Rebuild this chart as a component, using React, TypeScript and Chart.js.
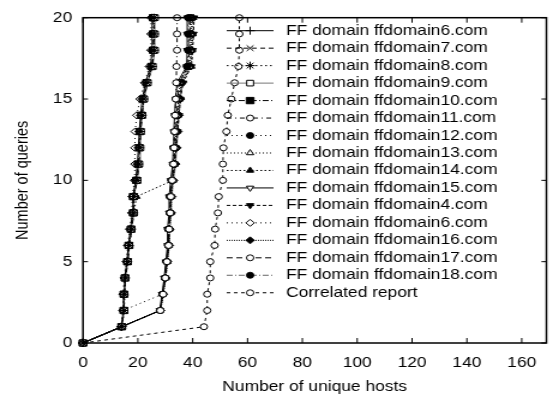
import React, { useEffect, useRef } from 'react';
import { Chart, registerables } from 'chart.js';
import { drawPoint } from 'chart.js/helpers';

Chart.register(...registerables);

// ---------- data ----------
const queries = [0, 1, 2, 3, 4, 5, 6, 7, 8, 9, 10, 11, 12, 13, 14, 15, 16, 17, 18, 19, 20];
const xTickValues = [0, 20, 40, 60, 80, 100, 120, 140, 160];
const yTickValues = [0, 5, 10, 15, 20];

const ffdomain6 = [0, 14.0, 14.7, 14.8, 15.2, 16.0, 16.5, 17.3, 18.0, 18.2, 19.2, 19.8, 20.2, 20.5, 21.0, 21.6, 22.8, 24.6, 25.2, 25.2, 25.2];
const ffdomain7 = [0, 14.2, 15.0, 15.1, 15.5, 16.4, 16.9, 17.8, 18.5, 18.6, 19.8, 20.4, 20.8, 21.0, 21.6, 22.2, 23.5, 25.3, 25.9, 25.9, 25.9];
const ffdomain8 = [0, 14.0, 14.8, 14.9, 15.4, 16.2, 16.8, 17.6, 18.4, 18.5, 19.6, 20.2, 20.6, 20.9, 21.5, 22.1, 23.4, 25.2, 26.0, 26.0, 26.0];
const ffdomain9 = [0, 14.1, 15.0, 15.0, 15.4, 16.3, 16.8, 17.7, 18.5, 18.5, 19.8, 20.5, 20.9, 21.1, 21.6, 22.3, 23.6, 25.4, 26.2, 26.2, 26.2];
const ffdomain10 = [0, 14.1, 14.9, 14.9, 15.3, 16.2, 16.7, 17.5, 18.3, 18.3, 19.5, 20.1, 20.5, 20.7, 21.3, 21.9, 23.2, 25.0, 25.6, 25.6, 25.6];
const ffdomain11 = [0, 14.1, 28.2, 29.2, 30.0, 30.6, 31.2, 31.4, 31.8, 32.0, 32.5, 33.0, 33.2, 33.4, 33.6, 33.8, 34.0, 34.1, 34.3, 34.3, 34.3];
const ffdomain12 = [0, 14.1, 14.6, 29.0, 29.8, 30.4, 31.0, 31.0, 31.6, 31.6, 32.2, 32.8, 33.0, 33.3, 33.6, 34.0, 34.6, 38.0, 38.3, 38.3, 38.3];
const ffdomain13 = [0, 14.1, 28.0, 29.2, 30.2, 30.8, 31.4, 31.6, 32.0, 32.2, 32.8, 33.4, 33.8, 34.0, 34.4, 34.8, 35.4, 38.8, 39.2, 39.2, 39.2];
const ffdomain14 = [0, 14.3, 15.0, 15.2, 15.5, 16.3, 17.0, 17.7, 18.6, 19.5, 32.8, 33.2, 33.6, 34.0, 34.6, 35.2, 35.8, 39.5, 39.8, 40.0, 40.2];
const ffdomain15 = [0, 14.0, 28.0, 28.8, 29.6, 30.2, 30.8, 30.8, 31.4, 31.4, 32.0, 32.7, 32.9, 33.1, 33.4, 33.8, 34.3, 37.8, 38.0, 38.0, 38.0];
const ffdomain4 = [0, 14.1, 28.1, 29.1, 30.0, 30.6, 31.2, 31.2, 31.8, 32.0, 32.5, 33.5, 34.0, 34.5, 35.0, 35.5, 36.5, 39.5, 40.0, 40.3, 40.5];
const ffdomain6b = [0, 13.9, 14.6, 14.6, 15.0, 15.8, 16.3, 17.0, 17.8, 17.9, 18.8, 18.9, 18.9, 19.0, 19.6, 20.8, 22.5, 24.2, 24.8, 24.8, 24.8];
const ffdomain16 = [0, 14.2, 28.3, 29.3, 30.2, 30.8, 31.5, 31.7, 32.2, 32.4, 33.0, 33.8, 34.2, 34.6, 35.0, 35.6, 36.2, 39.0, 39.6, 39.6, 39.6];
const ffdomain17 = [0, 14.1, 28.1, 29.0, 29.9, 30.5, 31.1, 31.3, 31.7, 31.9, 32.4, 33.2, 33.5, 33.8, 34.2, 34.6, 35.0, 38.4, 38.8, 39.0, 39.0];
const ffdomain18 = [0, 14.2, 28.2, 29.1, 30.1, 30.7, 31.3, 31.5, 31.9, 32.1, 32.6, 33.6, 33.9, 34.3, 34.8, 35.3, 35.9, 37.9, 38.6, 38.6, 38.6];
const correlated = [0, 44.1, 45.3, 45.3, 46.4, 46.4, 48.0, 48.2, 49.2, 49.5, 51.0, 51.0, 51.2, 52.3, 52.8, 54.1, 55.3, 56.7, 57.0, 57.0, 57.0];

const seriesLabels = [
  'FF domain ffdomain6.com', 'FF domain ffdomain7.com', 'FF domain ffdomain8.com', 'FF domain ffdomain9.com',
  'FF domain ffdomain10.com', 'FF domain ffdomain11.com', 'FF domain ffdomain12.com', 'FF domain ffdomain13.com',
  'FF domain ffdomain14.com', 'FF domain ffdomain15.com', 'FF domain ffdomain4.com', 'FF domain ffdomain6.com',
  'FF domain ffdomain16.com', 'FF domain ffdomain17.com', 'FF domain ffdomain18.com', 'Correlated report',
];
const seriesValues = [
  ffdomain6, ffdomain7, ffdomain8, ffdomain9, ffdomain10, ffdomain11, ffdomain12, ffdomain13,
  ffdomain14, ffdomain15, ffdomain4, ffdomain6b, ffdomain16, ffdomain17, ffdomain18, correlated,
];

// ---------- styles ----------
const W = 461;
const H = 398;
const SX = 553 / W;
const FONT = "'Liberation Sans', Arial, Helvetica, sans-serif";
const FS = 14.5;

const styles = [
  { color: '#000', dash: [], marker: 'cross', r: 4, fill: '#000', rot: 0 },
  { color: '#000', dash: [4, 3], marker: 'crossRot', r: 4, fill: '#000', rot: 0 },
  { color: '#000', dash: [1.5, 2.5], marker: 'star', r: 4, fill: '#000', rot: 0 },
  { color: '#777', dash: [], marker: 'rect', r: 4, fill: '#fff', rot: 0 },
  { color: '#000', dash: [5, 2, 1, 2], marker: 'rect', r: 4.5, fill: '#000', rot: 0 },
  { color: '#000', dash: [4, 3, 1, 3], marker: 'circle', r: 3, fill: '#fff', rot: 0 },
  { color: '#000', dash: [1, 3], marker: 'circle', r: 3, fill: '#000', rot: 0 },
  { color: '#000', dash: [1, 2], marker: 'triangle', r: 3.5, fill: '#fff', rot: 0 },
  { color: '#000', dash: [1.5, 2], marker: 'triangle', r: 3.5, fill: '#000', rot: 0 },
  { color: '#000', dash: [], marker: 'triangle', r: 3.5, fill: '#fff', rot: 180 },
  { color: '#000', dash: [3, 2], marker: 'triangle', r: 3.5, fill: '#000', rot: 180 },
  { color: '#000', dash: [1, 3], marker: 'rectRot', r: 3.5, fill: '#fff', rot: 0 },
  { color: '#000', dash: [1, 1], marker: 'rectRot', r: 3.5, fill: '#000', rot: 0 },
  { color: '#000', dash: [5, 3], marker: 'circle', r: 3, fill: '#fff', rot: 0 },
  { color: '#666', dash: [5, 2, 1, 2], marker: 'circle', r: 3, fill: '#000', rot: 0 },
  { color: '#000', dash: [3, 3], marker: 'circle', r: 3, fill: '#fff', rot: 0 },
];

const framePlugin = {
  id: 'gnuFrame',
  afterDraw(chart: any) {
    const { ctx, chartArea: a, scales } = chart;
    const xs = scales.x;
    const ys = scales.y;
    ctx.save();
    ctx.setLineDash([]);
    ctx.strokeStyle = '#000';
    ctx.lineWidth = 1.5;
    ctx.strokeRect(a.left, a.top, a.right - a.left, a.bottom - a.top);
    ctx.lineWidth = 1;
    const seg = (x1: number, y1: number, x2: number, y2: number) => {
      ctx.beginPath();
      ctx.moveTo(x1, y1);
      ctx.lineTo(x2, y2);
      ctx.stroke();
    };
    const tv = 5;
    const th = 5 / SX;
    xs.ticks.forEach((t: any) => {
      const p = xs.getPixelForValue(t.value);
      seg(p, a.bottom, p, a.bottom - tv);
      seg(p, a.top, p, a.top + tv);
    });
    ys.ticks.forEach((t: any) => {
      const p = ys.getPixelForValue(t.value);
      seg(a.left, p, a.left + th, p);
      seg(a.right, p, a.right - th, p);
    });

    // key
    const x1 = 189;
    const x2 = 228;
    const xm = 208.5;
    const xt = 238.5;
    chart.data.datasets.forEach((ds: any, i: number) => {
      const y = 30.7 + i * 17.47;
      ctx.strokeStyle = ds.borderColor;
      ctx.lineWidth = 1;
      ctx.setLineDash(ds.borderDash || []);
      seg(x1, y, x2, y);
      ctx.setLineDash([]);
      ctx.strokeStyle = '#000';
      ctx.fillStyle = ds.pointBackgroundColor;
      drawPoint(ctx, { pointStyle: ds.pointStyle, rotation: ds.pointRotation, radius: ds.pointRadius, borderWidth: 1 } as any, xm, y);
      ctx.fillStyle = '#000';
      ctx.font = `${FS}px ${FONT}`;
      ctx.textAlign = 'left';
      ctx.textBaseline = 'middle';
      ctx.fillText(ds.label, xt, y);
    });
    ctx.restore();
  },
};

export default function App() {
  const ref = useRef<HTMLCanvasElement>(null);
  useEffect(() => {
    const canvas = ref.current;
    if (!canvas) return;
    const datasets = seriesValues.map((vals, i) => {
      const s = styles[i];
      return {
        label: seriesLabels[i],
        data: vals.map((x, j) => ({ x, y: queries[j] })),
        showLine: true,
        borderColor: s.color,
        borderWidth: 1,
        borderDash: s.dash,
        pointStyle: s.marker,
        pointRotation: s.rot,
        pointRadius: s.r,
        pointHoverRadius: s.r,
        pointBorderColor: '#000',
        pointBackgroundColor: s.fill,
        pointBorderWidth: 1,
        clip: false,
      };
    });
    const font = { family: FONT, size: FS };
    const chart = new Chart(canvas, {
      type: 'scatter',
      data: { datasets } as any,
      options: {
        responsive: false,
        animation: false,
        devicePixelRatio: 1,
        color: '#000',
        layout: { padding: { left: 0, right: W - 455.8, top: 14, bottom: 0 } },
        plugins: { legend: { display: false }, tooltip: { enabled: false } },
        scales: {
          x: {
            type: 'linear',
            min: 0,
            max: 169,
            grid: { display: false, drawTicks: false },
            border: { display: false },
            afterBuildTicks: (scale: any) => {
              scale.ticks = xTickValues.map((v) => ({ value: v }));
            },
            afterFit: (scale: any) => {
              scale.height = H - 343;
            },
            ticks: { font, color: '#000', padding: 11, maxRotation: 0 },
            title: { display: true, text: 'Number of unique hosts', font, color: '#000', padding: { top: 0, bottom: 2 } },
          },
          y: {
            type: 'linear',
            min: 0,
            max: 20,
            grid: { display: false, drawTicks: false },
            border: { display: false },
            afterBuildTicks: (scale: any) => {
              scale.ticks = yTickValues.map((v) => ({ value: v }));
            },
            afterFit: (scale: any) => {
              scale.width = 83 / SX;
            },
            ticks: { font, color: '#000', padding: 9 },
            title: { display: true, text: 'Number of queries', font, color: '#000', padding: { top: 10, bottom: 0 } },
          },
        },
      } as any,
      plugins: [framePlugin],
    });
    return () => chart.destroy();
  }, []);

  return (
    <div style={{ position: 'fixed', left: 0, top: 0, width: 553, height: 398, overflow: 'hidden', background: '#fff' }}>
      <canvas
        ref={ref}
        width={W}
        height={H}
        style={{ display: 'block', transform: `scaleX(${SX})`, transformOrigin: '0 0' }}
      />
    </div>
  );
}
